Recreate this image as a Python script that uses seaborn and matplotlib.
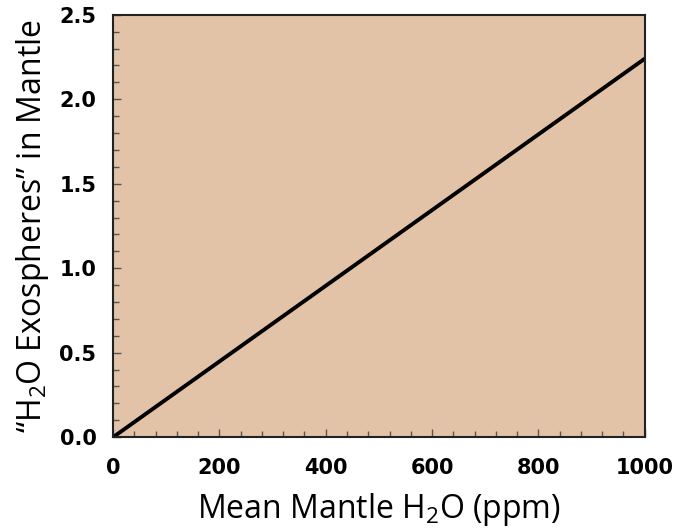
import matplotlib
matplotlib.use("Agg")
import matplotlib.pyplot as plt
from matplotlib.ticker import MultipleLocator
import pandas as pd
import seaborn as sns

# Data
mantle_h2o = [0, 1000]
exospheres = [0.0, 2.24]

df = pd.DataFrame({"h2o": mantle_h2o, "exo": exospheres})

sns.set_style("ticks")
plt.rcParams["mathtext.fontset"] = "custom"
plt.rcParams["mathtext.rm"] = "Open Sans"
plt.rcParams["mathtext.it"] = "Open Sans"

fig, ax = plt.subplots(figsize=(6.73, 5.28), dpi=100)
fig.subplots_adjust(left=0.168, right=0.958, top=0.972, bottom=0.172)

ax.set_facecolor("#E3C3A8")
sns.lineplot(data=df, x="h2o", y="exo", ax=ax, color="black", linewidth=2.8)

ax.set_xlim(0, 1000)
ax.set_ylim(0, 2.5)
ax.xaxis.set_major_locator(MultipleLocator(200))
ax.xaxis.set_minor_locator(MultipleLocator(40))
ax.yaxis.set_major_locator(MultipleLocator(0.5))
ax.yaxis.set_minor_locator(MultipleLocator(0.1))
ax.yaxis.set_major_formatter(matplotlib.ticker.FormatStrFormatter("%.1f"))

ax.tick_params(which="both", direction="in", color="#555555", labelcolor="black")
ax.tick_params(which="major", length=6, width=1)
ax.tick_params(axis="x", which="major", pad=15)
ax.tick_params(axis="y", which="major", pad=12)
ax.tick_params(which="minor", length=4, width=1)
for lab in ax.get_xticklabels() + ax.get_yticklabels():
    lab.set_fontweight("bold")
    lab.set_fontsize(15)
    lab.set_family("DejaVu Sans")

for sp in ax.spines.values():
    sp.set_color("#222222")
    sp.set_linewidth(1.5)

ax.set_xlabel("Mean Mantle H$_2$O (ppm)", fontsize=23, family="Open Sans",
              color="black", labelpad=9)
ax.set_ylabel("\u201cH$_2$O Exospheres\u201d in Mantle", fontsize=23, family="Open Sans",
              color="black", labelpad=6)

fig.savefig("out.png", dpi=100)
